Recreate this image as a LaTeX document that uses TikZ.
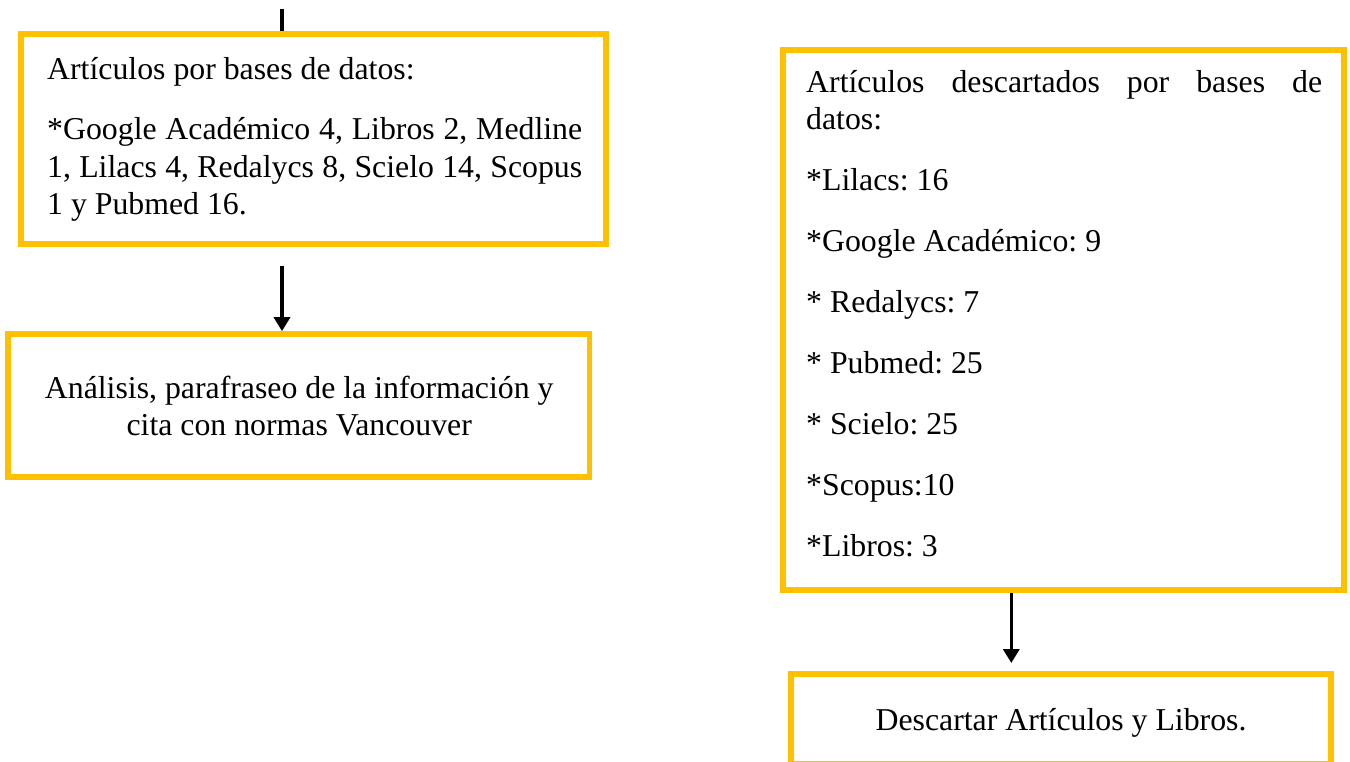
\documentclass[tikz,border=0pt]{standalone}
\usepackage{fontspec}
\setmainfont{Liberation Serif}
\usetikzlibrary{arrows.meta}
\definecolor{boxgold}{RGB}{255,192,0}
\newcommand\jline[2]{\makebox[#1][s]{#2}\par}
\newcommand\centline[2]{\makebox[#1][c]{#2}\par}
\newcommand\normalspaces{\spaceskip=0pt\xspaceskip=0pt\frenchspacing\relax}
\begin{document}
\begin{tikzpicture}[x=1pt,y=-1pt,
  framebox/.style={draw=boxgold, line width=5.7pt, inner sep=0pt, rectangle},
  txt/.style={inner sep=0pt, font=\fontsize{31.8}{37.5}\selectfont\frenchspacing},
  arr/.style={draw=black, line width=3.6pt, -{Triangle[length=14pt,width=16pt]}},
  stubline/.style={draw=black, line width=3.8pt}]
\useasboundingbox (0,0) rectangle (1350,761);

% boxes
\node[framebox, minimum width=585pt, minimum height=210pt] (box1) at (313.5,139) {};
\node[framebox, minimum width=581.2pt, minimum height=143pt] (box2) at (298.9,405.5) {};
\node[framebox, minimum width=561pt, minimum height=539.7pt] (box3) at (1063.5,319.85) {};
\node[framebox, minimum width=540pt, minimum height=90pt] (box4) at (1061,719) {};

% texts
\node[txt, text width=535pt, align=left, anchor=base west] (t1) at (47,79)
  {\normalspaces Artículos por bases de datos:\par\vspace{23pt}%
   \jline{535pt}{*Google Académico 4, Libros 2, Medline}%
   \jline{535pt}{1, Lilacs 4, Redalycs 8, Scielo 14, Scopus}%
   1 y Pubmed 16.};
\node[txt, text width=560pt, align=left, anchor=base west] (t2) at (19,398)
  {\normalspaces\centline{560pt}{Análisis, parafraseo de la información y}%
   \centline{560pt}{cita con normas Vancouver}};
\node[txt, text width=516pt, align=left, anchor=base west] (t3) at (806,92)
  {\normalspaces\jline{516pt}{Artículos descartados por bases de}%
   datos:\par\vspace{23.5pt}%
   *Lilacs: 16\par\vspace{23.5pt}%
   *Google Académico: 9\par\vspace{23.5pt}%
   * Redalycs: 7\par\vspace{23.5pt}%
   * Pubmed: 25\par\vspace{23.5pt}%
   * Scielo: 25\par\vspace{23.5pt}%
   *Scopus:10\par\vspace{23.5pt}%
   *Libros: 3};
\node[txt, anchor=base] (t4) at (1061,730) {Descartar Artículos y Libros.};

% connectors
\coordinate (stubtop) at (282,9);
\coordinate (a1start) at (282,266);
\coordinate (a2end) at (1011.3,663);
\draw[stubline] (stubtop) -- (stubtop |- box1.north);
\draw[arr] (a1start) -- (a1start |- box2.north);
\draw[arr] (a2end |- box3.south) -- (a2end);
\end{tikzpicture}
\end{document}
